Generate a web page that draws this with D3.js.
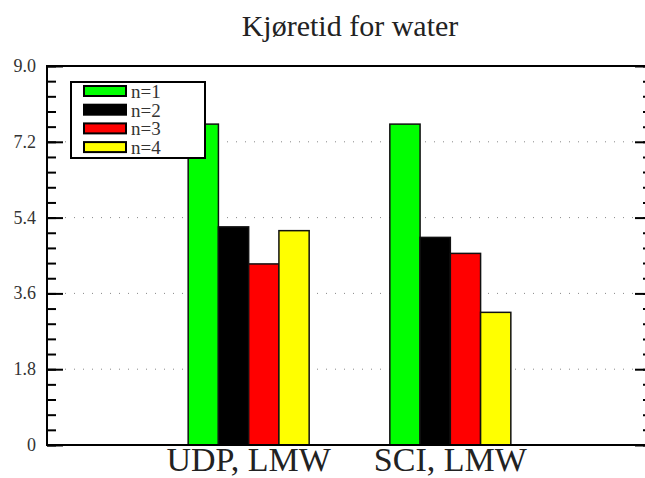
<!DOCTYPE html>
<head>
    <meta charset="utf-8">
    <title>Kjøretid for water</title>
    <script src="https://d3js.org/d3.v7.min.js"></script>
    <style>
        body { margin: 0; background: #fff; }
        svg { display: block; }
        text { font-family: 'Liberation Serif', 'Times New Roman', 'DejaVu Serif', serif; }
    </style>
</head>
<body>
<script>
// chart data
const categories = ["UDP, LMW", "SCI, LMW"];
const seriesNames = ["n=1", "n=2", "n=3", "n=4"];
const seriesColors = ["#00ff00", "#000000", "#ff0000", "#ffff00"];
const n1 = [7.62, 7.62];
const n2 = [5.18, 4.93];
const n3 = [4.30, 4.55];
const n4 = [5.09, 3.15];
const yTicks = [0, 1.8, 3.6, 5.4, 7.2, 9.0];

const series = [n1, n2, n3, n4];

const w = 645, h = 478;
const padL = 47, padR = 652, padT = 66, padB = 445;

const svg = d3.select("body").append("svg")
    .attr("width", w)
    .attr("height", h);

const xScale = d3.scaleLinear().domain([0, 3]).range([padL, padR]);
const yScale = d3.scaleLinear().domain([0, 9]).range([padB, padT]);
const barW = 0.15;

// title
svg.append("text")
    .attr("x", 350)
    .attr("y", 36)
    .attr("text-anchor", "middle")
    .attr("font-size", 30)
    .attr("fill", "#222")
    .text("Kjøretid for water");

// dotted grid lines
svg.append("g")
    .selectAll("line")
    .data(yTicks.filter(d => d > 0 && d < 9))
    .enter()
    .append("line")
    .attr("x1", padL + 18)
    .attr("x2", 634)
    .attr("y1", d => yScale(d))
    .attr("y2", d => yScale(d))
    .attr("stroke", "#888")
    .attr("stroke-width", 1)
    .attr("stroke-dasharray", "1,8");

// bars
const bars = svg.append("g");
series.forEach((vals, s) => {
    bars.selectAll(".s" + s)
        .data(vals)
        .enter()
        .append("rect")
        .attr("class", "s" + s)
        .attr("x", (d, i) => xScale(i + 1 - 2 * barW + s * barW))
        .attr("y", d => yScale(d))
        .attr("width", xScale(barW) - xScale(0))
        .attr("height", d => padB - yScale(d))
        .attr("fill", seriesColors[s])
        .attr("stroke", "#111")
        .attr("stroke-width", 1.5);
});

// left axis with minor ticks
const minor = d3.range(0, 9.001, 0.36);
const yAxisL = d3.axisRight(yScale).tickValues(minor).tickSize(9).tickFormat("");
svg.append("g")
    .attr("transform", "translate(" + padL + ",0)")
    .call(yAxisL)
    .call(g => g.select(".domain").remove())
    .selectAll("line").attr("stroke", "#000").attr("stroke-width", 2);

const yAxisMajor = d3.axisRight(yScale).tickValues(yTicks).tickSize(16).tickFormat("");
svg.append("g")
    .attr("transform", "translate(" + padL + ",0)")
    .call(yAxisMajor)
    .call(g => g.select(".domain").remove())
    .selectAll("line").attr("stroke", "#000").attr("stroke-width", 2);

// right axis ticks
const yAxisR = d3.axisLeft(yScale).tickValues(minor).tickSize(2).tickFormat("");
svg.append("g")
    .attr("transform", "translate(645,0)")
    .call(yAxisR)
    .call(g => g.select(".domain").remove())
    .selectAll("line").attr("stroke", "#000").attr("stroke-width", 2);
const yAxisR2 = d3.axisLeft(yScale).tickValues(yTicks).tickSize(10).tickFormat("");
svg.append("g")
    .attr("transform", "translate(645,0)")
    .call(yAxisR2)
    .call(g => g.select(".domain").remove())
    .selectAll("line").attr("stroke", "#000").attr("stroke-width", 2);

// tick labels
svg.append("g")
    .selectAll("text")
    .data(yTicks)
    .enter()
    .append("text")
    .attr("x", 36)
    .attr("y", d => yScale(d) + 6)
    .attr("text-anchor", "end")
    .attr("font-size", 18)
    .attr("fill", "#333")
    .text(d => d === 0 ? "0" : d3.format(".1f")(d));

// frame
svg.append("rect")
    .attr("x", padL)
    .attr("y", padT)
    .attr("width", padR - padL)
    .attr("height", padB - padT)
    .attr("fill", "none")
    .attr("stroke", "#000")
    .attr("stroke-width", 2);

// category labels
svg.append("g")
    .selectAll("text")
    .data(categories)
    .enter()
    .append("text")
    .attr("x", (d, i) => xScale(i + 1))
    .attr("y", 471)
    .attr("text-anchor", "middle")
    .attr("font-size", 34)
    .attr("fill", "#222")
    .text(d => d);

// legend
const lg = svg.append("g");
lg.append("rect")
    .attr("x", 71).attr("y", 82)
    .attr("width", 134).attr("height", 76)
    .attr("fill", "#fff")
    .attr("stroke", "#000")
    .attr("stroke-width", 2);
seriesNames.forEach((name, s) => {
    const yy = 86 + s * 18.7;
    lg.append("rect")
        .attr("x", 84).attr("y", yy)
        .attr("width", 42).attr("height", 10)
        .attr("fill", seriesColors[s])
        .attr("stroke", "#000")
        .attr("stroke-width", 2);
    lg.append("text")
        .attr("x", 131).attr("y", yy + 12)
        .attr("font-size", 19)
        .attr("fill", "#333")
        .text(name);
});
</script>
</body>
